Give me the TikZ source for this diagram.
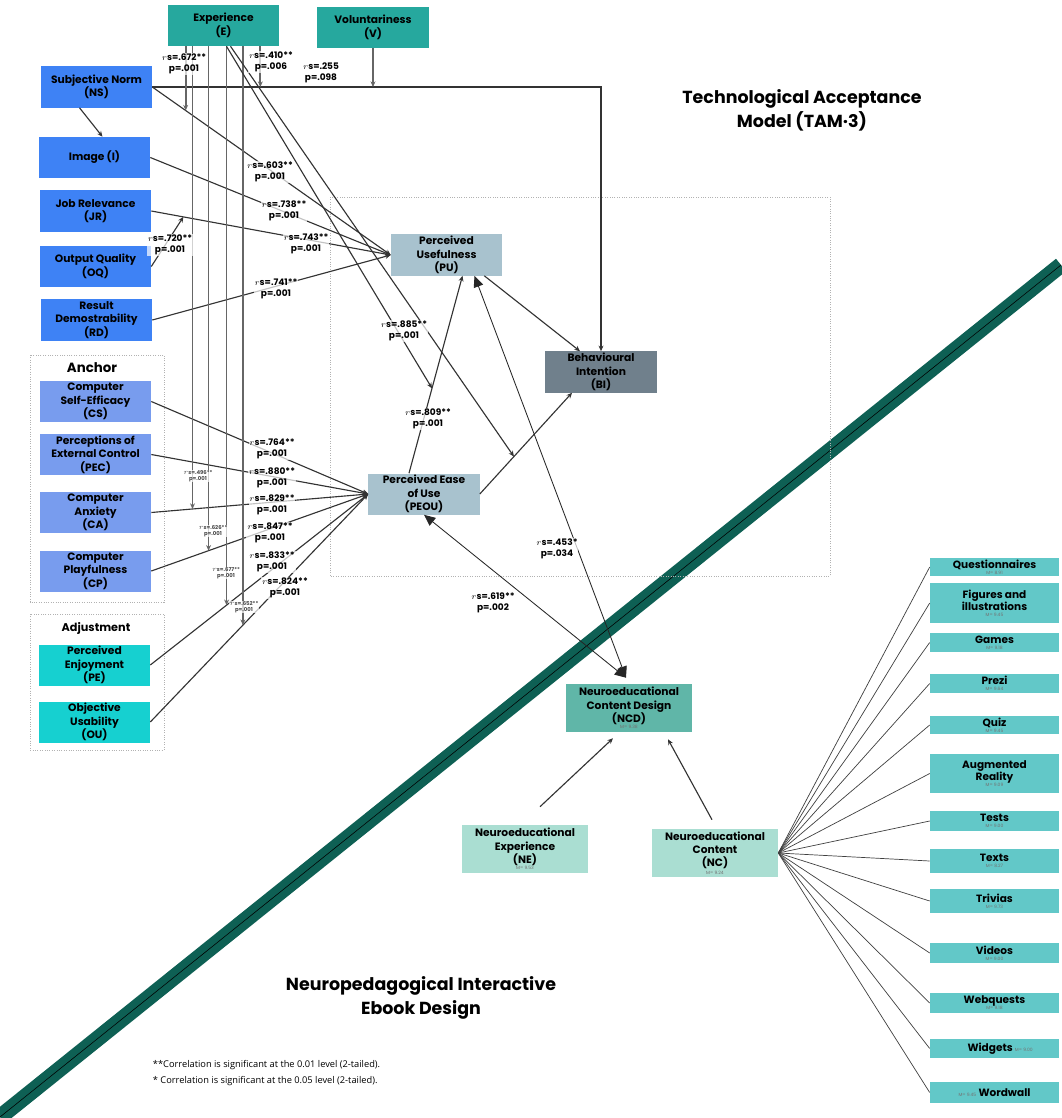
\documentclass[tikz,border=0pt]{standalone}
\usepackage{fontspec}
\setmainfont{Poppins}
\newfontfamily\notefont{Open Sans}
\usetikzlibrary{arrows.meta,calc}

\definecolor{expteal}{RGB}{38,168,158}
\definecolor{tamblue}{RGB}{62,130,245}
\definecolor{anchorblue}{RGB}{120,156,238}
\definecolor{adjcyan}{RGB}{22,208,208}
\definecolor{tamgrey}{RGB}{168,194,206}
\definecolor{bislate}{RGB}{112,128,140}
\definecolor{ncdteal}{RGB}{96,182,168}
\definecolor{nemint}{RGB}{170,222,210}
\definecolor{itemteal}{RGB}{98,200,200}
\definecolor{bandgreen}{RGB}{14,96,84}

\newcommand\mval{\fontsize{3.2}{3.5}\selectfont\mdseries\color{black!55}}

\tikzset{
  box/.style={fill=#1, inner sep=0pt, minimum width=2.775cm, minimum height=1.025cm,
    align=center, font=\fontsize{7.6}{9.5}\selectfont\bfseries},
  item/.style={fill=itemteal, inner sep=0pt, minimum width=3.225cm, align=center,
    font=\fontsize{7.5}{8.7}\selectfont\bfseries},
  lab/.style={fill=white, fill opacity=.7, text opacity=1, inner sep=.6pt, align=center,
    font=\fontsize{6.4}{8}\selectfont\bfseries},
  minilab/.style={fill=white, fill opacity=.7, text opacity=1, inner sep=.3pt, align=center,
    font=\fontsize{3.8}{4.6}\selectfont\bfseries\color{black!70}},
  conn/.style={draw=black!80, line width=.8pt, -{Stealth[length=4pt,width=3.5pt]}},
  mod/.style={draw=black!60, line width=1.3pt, -{Stealth[length=4pt,width=3.5pt]}},
  twoway/.style={draw=black!85, line width=.6pt,
    {Triangle[length=8pt,width=7pt]}-{Triangle[length=8pt,width=7pt]}},
  fan/.style={draw=black!75, line width=.5pt},
  dotbox/.style={draw=black!30, densely dotted, line width=.7pt},
}

\begin{document}
\begin{tikzpicture}[x=0.025cm, y=-0.025cm]
\useasboundingbox (0,0) rectangle (1061,1118);
\fill[white] (0,0) rectangle (1061,1118);

% dividing band
\draw[bandgreen, line width=.4cm] (0,1117) -- (1061,265);
\draw[black, line width=.4pt] (0,1117) -- (1061,265);

% frames
\draw[dotbox] (330,197) rectangle (830,576);
\draw[dotbox] (30,355) rectangle (164,602);
\draw[dotbox] (30,614) rectangle (164,750);

% TAM-3 constructs
\foreach \x/\y/\n/\col/\txt in {223.5/25.5/e/expteal/{Experience\\(E)},
    373/27.5/v/expteal/{Voluntariness\\(V)},
    96.5/87/ns/tamblue/{Subjective Norm\\(NS)},
    94.5/157.5/img/tamblue/{Image (I)},
    95.5/211/jr/tamblue/{Job Relevance\\(JR)},
    95.5/266.5/oq/tamblue/{Output Quality\\(OQ)},
    96.5/320/rd/tamblue/{Result\\Demostrability\\(RD)},
    95.5/401.5/cs/anchorblue/{Computer\\Self-Efficacy\\(CS)},
    95.5/454.5/pec/anchorblue/{Perceptions of\\External Control\\(PEC)},
    95.5/512.5/ca/anchorblue/{Computer\\Anxiety\\(CA)},
    95.5/571/cp/anchorblue/{Computer\\Playfulness\\(CP)},
    94.5/665/pe/adjcyan/{Perceived\\Enjoyment\\(PE)},
    94.5/722/ou/adjcyan/{Objective\\Usability\\(OU)},
    446.5/255/pu/tamgrey/{Perceived\\Usefulness\\(PU)},
    424/494/peou/tamgrey/{Perceived Ease\\of Use\\(PEOU)},
    601/372/bi/bislate/{Behavioural\\Intention\\(BI)}}
  \node[box=\col] (\n) at (\x,\y) {\txt};

\node[font=\fontsize{9.5}{10}\selectfont\bfseries] (anchortitle) at (92,368) {Anchor};
\node[font=\fontsize{8}{9}\selectfont\bfseries] (adjtitle) at (96,628) {Adjustment};

% ebook constructs
\foreach \x/\y/\n/\col/\txt in {629/708/ncd/ncdteal/{Neuroeducational\\Content Design\\(NCD)\\[-5pt]{\mval M= 9.38}},
    525/849/ne/nemint/{Neuroeducational\\Experience\\(NE)\\[-5pt]{\mval M= 9.53}},
    715/853/nc/nemint/{Neuroeducational\\Content\\(NC)\\[-4pt]{\mval M= 9.24}}}
  \node[box=\col, minimum width=3.15cm, minimum height=1.2cm] (\n) at (\x,\y) {\txt};

\foreach \y/\h/\n/\txt in {567/18/q1/{Questionnaires\\[-4.5pt]{\mval M= 8.91}},
    603/40/q2/{Figures and\\illustrations\\[-4.5pt]{\mval M= 9.45}},
    642.5/19/q3/{Games\\[-4.5pt]{\mval M= 9.18}},
    683.5/19/q4/{Prezi\\[-4.5pt]{\mval M= 9.64}},
    725/18/q5/{Quiz\\[-4.5pt]{\mval M= 9.45}},
    773.5/39/q6/{Augmented\\Reality\\[-4.5pt]{\mval M= 9.09}},
    821/20/q7/{Tests\\[-4.5pt]{\mval M= 9.00}},
    861/24/q8/{Texts\\[-4.5pt]{\mval M= 8.27}},
    901/24/q9/{Trivias\\[-4.5pt]{\mval M= 9.73}},
    953/20/q10/{Videos\\[-4.5pt]{\mval M= 9.00}},
    1003/20/q11/{Webquests\\[-4.5pt]{\mval M= 9.18}},
    1048.5/19/q12/{\hspace{8pt}Widgets {\mval M= 9.00}},
    1092.5/21/q13/{{\mval M= 9.45} Wordwall}}
  \node[item, minimum height=\h*0.025cm] (\n) at (994.5,\y) {\txt};

% paths into PU and PEOU
\draw[conn] (ns.east) -- coordinate[pos=.14] (t672) (pu.west);
\draw[conn] (img.east) -- (pu.west);
\draw[conn] (jr.east) -- coordinate[pos=.134] (t720) (pu.west);
\draw[conn] (rd.east) -- (pu.west);
\draw[conn] (ns.east) -| (bi.north);
\draw[conn] ($(ns.south)+(-17,0)$) -- ($(img.north)+(8,0)$);
\draw[conn] (oq.east) -- (t720);
\draw[conn] (cs.east) -- (peou.west);
\draw[conn] (pec.east) -- (peou.west);
\draw[conn] (ca.east) -- coordinate[pos=.19] (t496) (peou.west);
\draw[conn] (cp.east) -- coordinate[pos=.264] (t626) (peou.west);
\draw[conn] (pe.east) -- coordinate[pos=.35] (t677) (peou.west);
\draw[conn] (ou.east) -- coordinate[pos=.425] (t652) (peou.west);
\draw[conn] ($(peou.north)+(-15,0)$) -- coordinate[pos=.43] (t885) ($(pu.south)+(16,0)$);
\draw[conn] (peou.east) -- coordinate[pos=.37] (tpb) ($(bi.south)+(-29,0)$);
\draw[conn] ($(pu.south east)+(-18,0)$) -- ($(bi.north)+(-21,0)$);

% moderators
\coordinate (t410) at ($(ns.east)+(108,0)$);
\foreach \t in {t672,t410,t496,t626,t677,t652}
  \draw[mod] (\t |- e.south) -- (\t);
\draw[mod] (v.south) -- (v.south |- ns.east);
\draw[conn] ($(e.south)+(3,0)$) -- (t885);
\draw[conn] ($(e.south)+(7,0)$) -- (tpb);

% links to the ebook design
\draw[twoway] ($(pu.south)+(28,0)$) -- ($(ncd.north)+(-3,-6)$);
\draw[twoway] (peou.south) -- ($(ncd.north)+(-3,-6)$);
\draw[conn] ($(ne.north)+(15,-18)$) -- ($(ncd.south)+(-16,6)$);
\draw[conn] ($(nc.north)+(-3,-9)$) -- ($(ncd.south)+(39,7)$);
\foreach \i in {1,...,13}
  \draw[fan] (nc.east) -- (q\i.west);

% coefficients
\foreach \x/\y/\n/\rv/\pv in {184/64/l672/.672**/.001, 271/62/l410/.410**/.006,
    321/73/l255/.255/.098, 270/172/l603/.603**/.001, 284/211/l738/.738**/.001,
    306/244/l743/.743**/.001, 170/245/l720/.720**/.001, 276/289/l741/.741**/.001,
    404/331/l885/.885**/.001, 428/419/l809/.809**/.001, 272/449/l764/.764**/.001,
    272/478/l880/.880**/.001, 272/505/l829/.829**/.001, 270/533/l847/.847**/.001,
    272/562/l833/.833**/.001, 285/588/l824/.824**/.001, 557/549/l453/.453*/.034,
    493/603/l619/.619**/.002}
  \node[lab] (\n) at (\x,\y) {$r$s=\rv\\p=\pv};
\foreach \x/\y/\n/\rv in {198/476/l496/.496**, 213/531/l626/.626**,
    226/573/l677/.677**, 244/607/l652/.652**}
  \node[minilab] (\n) at (\x,\y) {$r$s=\rv\\p=.001};

% titles
\node[font=\fontsize{12.4}{17}\selectfont\bfseries, align=center] (tamtitle) at (802,110)
  {Technological Acceptance\\Model (TAM·3)};
\node[font=\fontsize{12.4}{16.5}\selectfont\bfseries, align=center] (ebooktitle) at (421,998)
  {Neuropedagogical Interactive\\Ebook Design};
\node[anchor=west, align=left, font=\notefont\fontsize{6.6}{11.4}\selectfont] (note) at (148,1073)
  {**Correlation is significant at the 0.01 level (2-tailed).\\{}* Correlation is significant at the 0.05 level (2-tailed).};
\end{tikzpicture}
\end{document}
